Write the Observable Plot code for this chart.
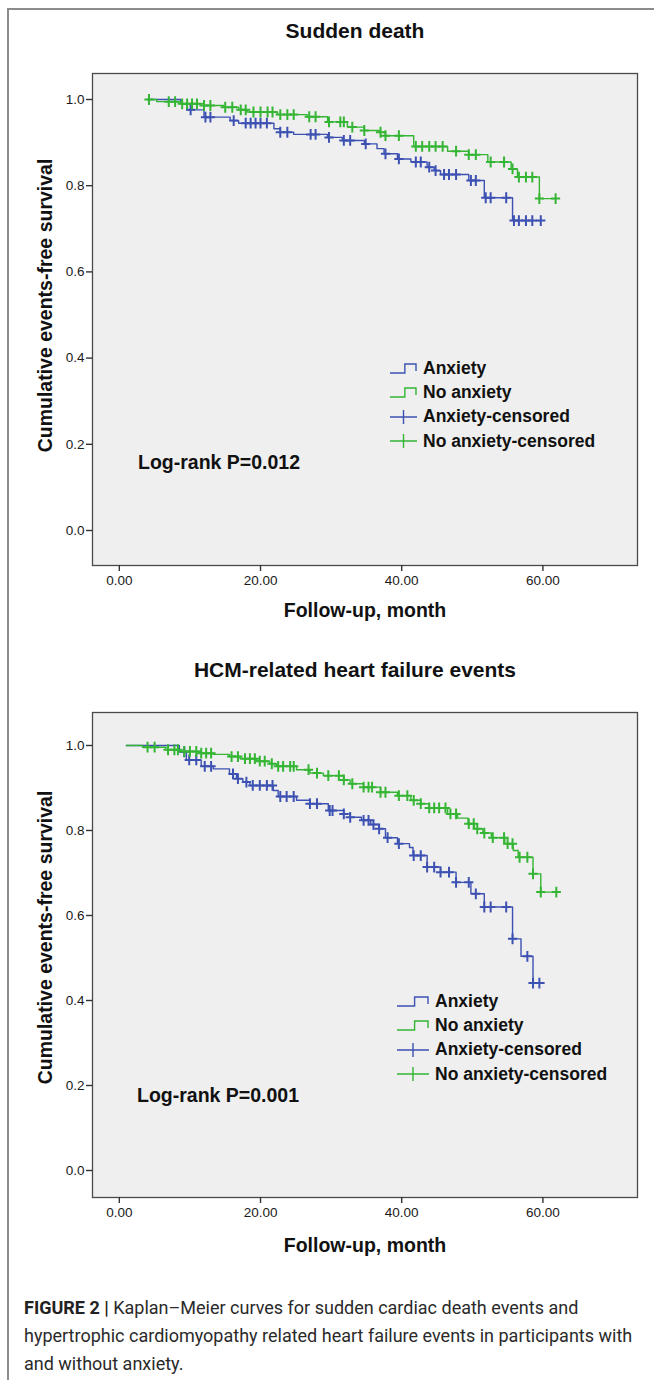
<!DOCTYPE html>
<html>
<head>
<meta charset="utf-8">
<script src="https://cdn.jsdelivr.net/npm/d3@7"></script>
<script src="https://cdn.jsdelivr.net/npm/@observablehq/plot@0.6"></script>
<style>
  body { margin: 0; background: #fff; }
  #page { position: relative; width: 654px; height: 1380px; overflow: hidden; font-family: "Liberation Sans", Arial, sans-serif; color: #111; }
  .frameborder { position: absolute; left: 7px; top: 8px; width: 700px; height: 1400px; border-left: 2px solid #8c8c8c; border-top: 2px solid #8c8c8c; }
  .title { position: absolute; left: 60px; width: 590px; text-align: center; font-size: 21px; font-weight: bold; color: #111; }
  .xlab { position: absolute; left: 150px; width: 430px; text-align: center; font-size: 19.5px; font-weight: bold; color: #111; }
  .ylab { position: absolute; width: 400px; text-align: center; font-size: 19.5px; font-weight: bold; color: #111; transform: rotate(-90deg); transform-origin: center center; white-space: nowrap; }
  .plotbox { position: absolute; left: 0; }
  .legend { position: absolute; font-size: 17.5px; font-weight: bold; color: #111; }
  .legend .row { display: flex; align-items: center; height: 24.3px; }
  .legend svg { margin-right: 6px; }
  .logrank { position: absolute; font-size: 19.5px; font-weight: bold; color: #111; }
  .caption { position: absolute; left: 24px; top: 1294px; width: 630px; font-family: Roboto, "Noto Sans", sans-serif; font-size: 18px; line-height: 28px; color: #2a2a2a; white-space: nowrap; }
  .caption b { font-weight: bold; color: #222; }
</style>
</head>
<body>
<div id="page">
  <div class="frameborder"></div>
  <div class="title" style="top:19px">Sudden death</div>
  <div class="title" style="top:658px">HCM-related heart failure events</div>
  <div class="plotbox" id="plot1" style="top:60px"></div>
  <div class="plotbox" id="plot2" style="top:700px"></div>
  <div class="xlab" style="top:599px">Follow-up, month</div>
  <div class="xlab" style="top:1234px">Follow-up, month</div>
  <div class="ylab" style="left:-155px; top:294px">Cumulative events-free survival</div>
  <div class="ylab" style="left:-155px; top:926px">Cumulative events-free survival</div>
  <div class="legend" id="legend1" style="left:390px; top:356px"></div>
  <div class="legend" id="legend2" style="left:397px; top:989px"></div>
  <div class="logrank" style="left:138px; top:451px">Log-rank P=0.012</div>
  <div class="logrank" style="left:137px; top:1084px">Log-rank P=0.001</div>
  <div class="caption"><b>FIGURE 2 |</b> Kaplan–Meier curves for sudden cardiac death events and<br>hypertrophic cardiomyopathy related heart failure events in participants with<br>and without anxiety.</div>
</div>
<script>
// ---------- DATA ----------
const xTicks = [0, 20, 40, 60];
const yTicks = [0, 0.2, 0.4, 0.6, 0.8, 1.0];
const groups = ["Anxiety", "No anxiety"];
const legendLabels = ["Anxiety", "No anxiety", "Anxiety-censored", "No anxiety-censored"];

// Panel 1: Sudden death
const sdAnxTime = [4.0, 8.7, 9.6, 12.0, 15.7, 16.9, 21.9, 22.8, 24.7, 29.5, 31.6, 34.7, 36.5, 37.5, 39.4, 41.3, 43.6, 44.6, 45.5, 49.5, 51.7, 55.7, 59.7];
const sdAnxSurv = [1.000, 0.990, 0.976, 0.959, 0.951, 0.945, 0.932, 0.924, 0.919, 0.912, 0.905, 0.897, 0.886, 0.874, 0.862, 0.855, 0.843, 0.835, 0.826, 0.812, 0.772, 0.719, 0.719];
const sdAnxCens = [10.1, 12.2, 12.9, 16.2, 17.9, 18.6, 19.3, 20.0, 20.9, 22.8, 23.8, 27.1, 27.8, 29.7, 31.8, 32.7, 34.9, 37.7, 39.6, 42.0, 42.7, 43.9, 44.8, 46.0, 46.7, 47.7, 49.8, 50.5, 51.9, 52.6, 54.8, 55.9, 56.6, 57.6, 58.5, 59.7];

const sdNoTime = [4.0, 5.3, 8.7, 12.0, 14.8, 16.9, 18.1, 22.4, 26.6, 29.5, 32.3, 34.7, 36.8, 37.7, 41.7, 46.5, 49.5, 52.2, 55.5, 56.4, 59.5, 61.8];
const sdNoSurv = [1.000, 0.995, 0.990, 0.986, 0.982, 0.976, 0.971, 0.965, 0.960, 0.948, 0.936, 0.928, 0.924, 0.916, 0.891, 0.880, 0.872, 0.855, 0.839, 0.820, 0.770, 0.770];
const sdNoCens = [4.2, 7.0, 7.9, 8.9, 9.6, 10.3, 11.0, 12.0, 12.9, 15.0, 16.0, 17.2, 17.9, 19.0, 20.0, 21.0, 21.7, 22.8, 23.8, 24.7, 26.9, 27.8, 29.7, 31.3, 31.8, 33.0, 34.7, 37.0, 37.7, 39.6, 42.0, 42.9, 43.9, 44.8, 45.8, 47.7, 49.5, 50.5, 52.6, 54.5, 55.7, 56.6, 57.6, 58.5, 59.5, 61.8];

// Panel 2: HCM-related heart failure events
const hfAnxTime = [1.0, 8.5, 9.5, 11.6, 13.3, 15.6, 16.6, 17.5, 18.5, 21.8, 22.5, 25.1, 27.0, 29.6, 31.8, 32.7, 34.3, 35.6, 36.8, 37.7, 39.4, 41.1, 41.6, 43.6, 45.5, 47.7, 49.8, 51.7, 55.7, 56.9, 58.6, 60.2];
const hfAnxSurv = [1.000, 0.985, 0.966, 0.951, 0.945, 0.933, 0.922, 0.914, 0.906, 0.894, 0.880, 0.871, 0.863, 0.847, 0.839, 0.831, 0.824, 0.814, 0.804, 0.783, 0.769, 0.760, 0.741, 0.714, 0.702, 0.678, 0.651, 0.620, 0.545, 0.504, 0.441, 0.441];
const hfAnxCens = [9.2, 9.9, 10.9, 12.1, 13.0, 16.1, 16.8, 18.0, 18.9, 19.9, 20.9, 21.7, 22.8, 23.7, 24.7, 27.0, 28.0, 29.8, 30.2, 31.8, 32.7, 34.6, 35.3, 36.0, 36.8, 38.0, 39.6, 41.7, 42.7, 43.6, 44.6, 45.5, 46.7, 47.7, 49.5, 50.5, 51.7, 52.6, 54.8, 55.7, 57.8, 58.6, 59.5];

const hfNoTime = [1.0, 3.3, 6.6, 8.5, 11.4, 13.3, 15.6, 17.1, 19.4, 21.3, 22.3, 25.1, 27.0, 28.9, 31.8, 32.7, 34.6, 37.0, 39.4, 41.3, 42.7, 43.9, 46.5, 47.9, 49.4, 50.3, 51.5, 52.7, 54.6, 55.8, 56.5, 58.6, 59.7, 61.9];
const hfNoSurv = [1.000, 0.996, 0.990, 0.986, 0.982, 0.979, 0.974, 0.969, 0.963, 0.957, 0.951, 0.943, 0.935, 0.929, 0.919, 0.910, 0.902, 0.890, 0.882, 0.871, 0.863, 0.853, 0.839, 0.829, 0.816, 0.804, 0.794, 0.783, 0.769, 0.753, 0.737, 0.698, 0.655, 0.655];
const hfNoCens = [4.0, 5.0, 6.9, 7.8, 8.3, 9.2, 10.0, 10.9, 11.6, 12.3, 13.0, 15.9, 16.8, 17.8, 18.5, 19.2, 19.9, 20.6, 21.6, 22.5, 23.2, 24.2, 24.7, 26.8, 28.0, 29.6, 31.1, 31.8, 33.0, 34.6, 35.3, 35.8, 37.0, 37.7, 39.6, 40.8, 41.7, 42.7, 43.9, 44.6, 45.3, 46.2, 46.9, 47.7, 49.5, 50.2, 50.7, 51.7, 52.9, 54.5, 55.0, 55.7, 56.7, 57.8, 58.6, 59.7, 61.9];

// ---------- STYLE ----------
const BLUE = "#3d51b2";
const GREEN = "#34b534";
const colors = {"Anxiety": BLUE, "No anxiety": GREEN};

const plusSymbol = {
  draw(ctx, size) {
    const r = Math.sqrt(size / Math.PI);
    ctx.moveTo(-r * 0.85, 0); ctx.lineTo(r * 0.85, 0);
    ctx.moveTo(0, -r); ctx.lineTo(0, r);
  }
};

function steps(times, surv, group) {
  return times.map((t, i) => ({t, s: surv[i], group}));
}
function censors(cens, times, surv, group) {
  return cens.map(t => {
    let v = surv[0];
    for (let i = 0; i < times.length; i++) if (times[i] <= t + 1e-9) v = surv[i];
    return {t, s: v, group};
  });
}

function km({curves, cens, yDomain, height, marginTop, marginBottom}) {
  return Plot.plot({
    width: 654,
    height,
    marginLeft: 92,
    marginRight: 17,
    marginTop,
    marginBottom,
    style: {background: "transparent", fontFamily: "'Liberation Sans', Arial, sans-serif", fontSize: "13.5px", color: "#1a1a1a"},
    x: {domain: [-3.8, 73.4]},
    y: {domain: yDomain},
    marks: [
      Plot.frame({fill: "#efefef", stroke: "#4a4a4a", strokeWidth: 1.3}),
      Plot.axisX({ticks: xTicks, tickFormat: d => d.toFixed(2), tickSize: 6, tickPadding: 4, label: null, stroke: "#333", strokeWidth: 1.4}),
      Plot.axisY({ticks: yTicks, tickFormat: d => d.toFixed(1), tickSize: 6, tickPadding: 2, label: null, stroke: "#333", strokeWidth: 1.4}),
      ...curves.map(c => Plot.line(c, {x: "t", y: "s", curve: "step-after", stroke: colors[c[0].group], strokeWidth: 1.4})),
      ...cens.map(c => Plot.dot(c, {x: "t", y: "s", symbol: plusSymbol, r: 5.4, fill: "none", stroke: colors[c[0].group], strokeWidth: 2}))
    ]
  });
}

document.getElementById("plot1").appendChild(km({
  curves: [steps(sdAnxTime, sdAnxSurv, "Anxiety"), steps(sdNoTime, sdNoSurv, "No anxiety")],
  cens: [censors(sdAnxCens, sdAnxTime, sdAnxSurv, "Anxiety"), censors(sdNoCens, sdNoTime, sdNoSurv, "No anxiety")],
  yDomain: [-0.0812, 1.0603],
  height: 565, marginTop: 13, marginBottom: 60
}));

document.getElementById("plot2").appendChild(km({
  curves: [steps(hfAnxTime, hfAnxSurv, "Anxiety"), steps(hfNoTime, hfNoSurv, "No anxiety")],
  cens: [censors(hfAnxCens, hfAnxTime, hfAnxSurv, "Anxiety"), censors(hfNoCens, hfNoTime, hfNoSurv, "No anxiety")],
  yDomain: [-0.0635, 1.0776],
  height: 537, marginTop: 12, marginBottom: 40
}));

// legends
function legend(el, symW) {
  legendLabels.forEach((lab, i) => {
    const col = i % 2 === 0 ? BLUE : GREEN;
    const row = document.createElement("div");
    row.className = "row";
    const ns = "http://www.w3.org/2000/svg";
    const svg = document.createElementNS(ns, "svg");
    svg.setAttribute("width", symW); svg.setAttribute("height", 16);
    const p = document.createElementNS(ns, "path");
    if (i < 2) {
      const a = symW * 0.55;
      p.setAttribute("d", `M0,13 H${a} V4 H${symW - 1} V11`);
    } else {
      p.setAttribute("d", `M0,8 H${symW} M${symW / 2},1 V15`);
    }
    p.setAttribute("fill", "none"); p.setAttribute("stroke", col); p.setAttribute("stroke-width", 1.4);
    svg.appendChild(p);
    row.appendChild(svg);
    const span = document.createElement("span");
    span.textContent = lab;
    row.appendChild(span);
    el.appendChild(row);
  });
}
legend(document.getElementById("legend1"), 27);
legend(document.getElementById("legend2"), 32);
</script>
</body>
</html>
